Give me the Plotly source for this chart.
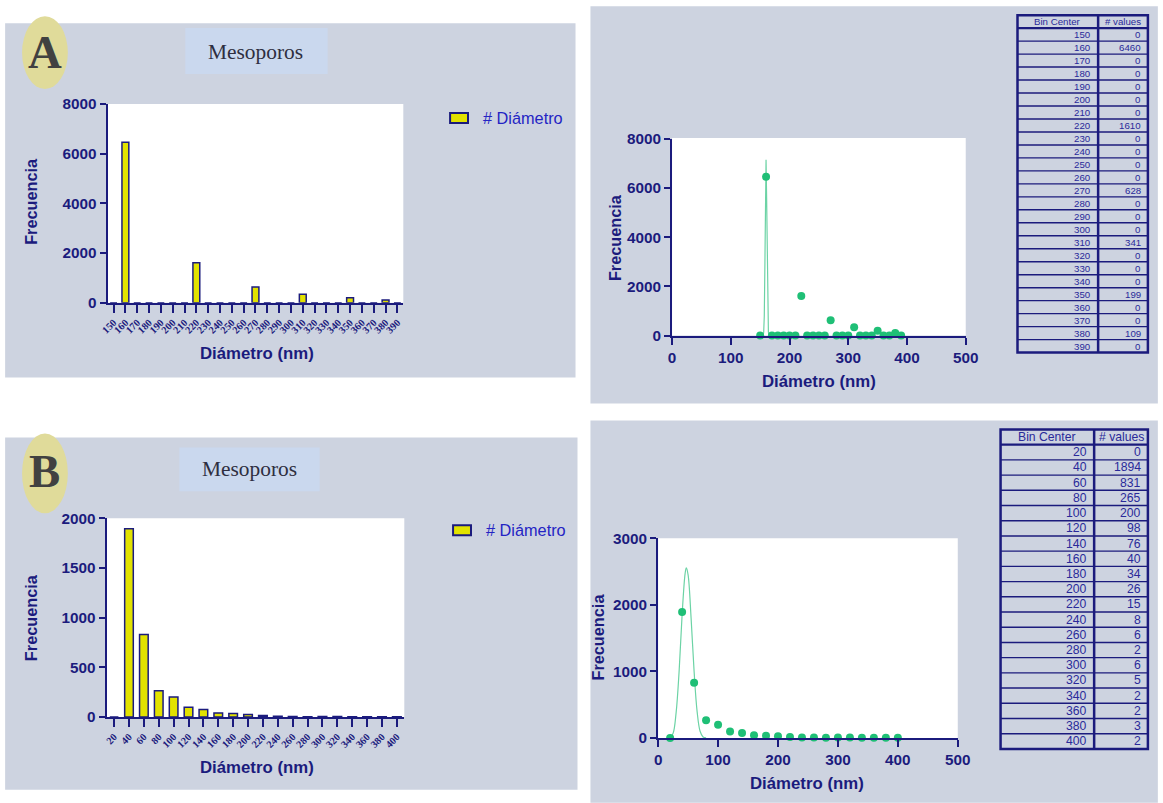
import plotly.graph_objects as go

# ---------------- data ----------------
bins_a = [150, 160, 170, 180, 190, 200, 210, 220, 230, 240, 250, 260, 270,
          280, 290, 300, 310, 320, 330, 340, 350, 360, 370, 380, 390]
counts_a = [0, 6460, 0, 0, 0, 0, 0, 1610, 0, 0, 0, 0, 628,
            0, 0, 0, 341, 0, 0, 0, 199, 0, 0, 109, 0]

bins_b = [20, 40, 60, 80, 100, 120, 140, 160, 180, 200,
          220, 240, 260, 280, 300, 320, 340, 360, 380, 400]
counts_b = [0, 1894, 831, 265, 200, 98, 76, 40, 34, 26,
            15, 8, 6, 2, 6, 5, 2, 2, 3, 2]

# fitted distribution curves
fit_a_x = [150, 155, 156, 157, 158, 159, 160, 161, 162, 163, 164, 165, 170]
fit_a_y = [0, 0, 150, 800, 2800, 5600, 7150, 5600, 2800, 800, 150, 0, 0]
fit_b_x = [20, 25, 30, 35, 40, 45, 47, 50, 55, 60, 65, 70, 75, 80]
fit_b_y = [5, 70, 380, 1000, 1850, 2470, 2555, 2450, 1800, 1000, 400, 100, 15, 0]

y_ticks_a = [0, 2000, 4000, 6000, 8000]
y_ticks_b = [0, 500, 1000, 1500, 2000]
y_ticks_b_fit = [0, 1000, 2000, 3000]
x_ticks_fit = [0, 100, 200, 300, 400, 500]
table_header = ["Bin Center", "# values"]

# ---------------- styling ----------------
W, H = 1163, 803
NAVY = "#1B1B7D"
TABLE_TXT = "#2A2A9A"
PANEL = "#CDD3E0"
BOX = "#CAD8EE"
BADGE = "#E0DB9A"
YELLOW = "#E2E200"
GREEN = "#1FBF76"
FIT = "#6CD3A5"
LEG_TXT = "#2424C4"
SANS = "Arial, Liberation Sans, sans-serif"
SERIF = "Liberation Serif, Times New Roman, serif"

# positions below are given in design-pixel units; these helpers map them
# onto the figure canvas
SX, SY, OFF = W / 1179, H / 819, 8
FS = 1.017  # font size factor matching the design grid


def px(x):
    return (x / SX - OFF) / W


def py(y):
    return 1 - (y / SY - OFF) / H


def fs(size):
    return round(size * FS, 1)


def rect(x0, y0, x1, y1, fill, line=None, lw=0, kind="rect", layer="below"):
    return dict(type=kind, xref="paper", yref="paper", layer=layer,
                x0=px(x0), x1=px(x1), y0=py(y1), y1=py(y0),
                fillcolor=fill, line=dict(color=line or fill, width=lw))


def hline(x0, x1, y, lw, color=NAVY):
    return dict(type="line", xref="paper", yref="paper", layer="above",
                x0=px(x0), x1=px(x1), y0=py(y), y1=py(y),
                line=dict(color=color, width=lw))


def vline(x, y0, y1, lw, color=NAVY):
    return dict(type="line", xref="paper", yref="paper", layer="above",
                x0=px(x), x1=px(x), y0=py(y1), y1=py(y0),
                line=dict(color=color, width=lw))


annotations = []


def text(x, y, s, size, color=NAVY, family=SANS, weight="bold", angle=0, xanchor="center"):
    annotations.append(dict(x=px(x), y=py(y), xref="paper", yref="paper", text=str(s),
                            showarrow=False, textangle=angle, xanchor=xanchor, yanchor="middle",
                            font=dict(family=family, size=fs(size), color=color, weight=weight)))


fig = go.Figure()

# histogram bars
fig.add_trace(go.Bar(x=[str(b) for b in bins_a], y=counts_a, xaxis="x", yaxis="y",
                     marker=dict(color=YELLOW, line=dict(color=NAVY, width=1.5)),
                     showlegend=False))
fig.add_trace(go.Bar(x=[str(b) for b in bins_b], y=counts_b, xaxis="x3", yaxis="y3",
                     marker=dict(color=YELLOW, line=dict(color=NAVY, width=1.5)),
                     showlegend=False))

# fitted curves and points
fig.add_trace(go.Scatter(x=fit_a_x, y=fit_a_y, xaxis="x2", yaxis="y2", mode="lines",
                         line=dict(color=FIT, width=1.2), showlegend=False))
fig.add_trace(go.Scatter(x=bins_a, y=counts_a, xaxis="x2", yaxis="y2", mode="markers",
                         marker=dict(color=GREEN, size=8), showlegend=False, cliponaxis=False))
fig.add_trace(go.Scatter(x=fit_b_x, y=fit_b_y, xaxis="x4", yaxis="y4", mode="lines",
                         line=dict(color=FIT, width=1.2, shape="spline"), showlegend=False))
fig.add_trace(go.Scatter(x=bins_b, y=counts_b, xaxis="x4", yaxis="y4", mode="markers",
                         marker=dict(color=GREEN, size=8), showlegend=False, cliponaxis=False))

shapes = [
    rect(5, 22, 578, 377, PANEL),
    rect(593, 5, 1163, 403, PANEL),
    rect(5, 437, 580, 790, PANEL),
    rect(593, 420, 1163, 803, PANEL),
    rect(22, 15, 68, 88, BADGE, kind="circle"),
    rect(22, 433, 68, 513, BADGE, kind="circle"),
    rect(186, 27, 329, 73, BOX),
    rect(180, 447, 321, 491, BOX),
    # white plotting areas
    rect(108, 103, 405, 302, "white"),
    rect(675, 137, 970, 335, "white"),
    rect(107, 518, 406, 717, "white"),
    rect(661, 538, 962, 738, "white"),
]
# legend swatches
for (x0, y0) in [(452, 112), (455, 525)]:
    shapes.append(rect(x0, y0, x0 + 18, y0 + 10, YELLOW, NAVY, 2, layer="above"))


# frequency tables: grid lines as shapes, values as text
def draw_table(x0, x1, xdiv, y0, y1, bins, counts, fsize, pad):
    x1 = min(x1, 1153)  # keep the right border on the canvas
    nrows = len(bins) + 1
    rh = (y1 - y0) / nrows
    for k in range(1, nrows):
        shapes.append(hline(x0, x1, y0 + k * rh, 2.2 if k == 1 else 1.4))
    shapes.append(rect(x0, y0, x1, y1, "rgba(0,0,0,0)", NAVY, 2.5, layer="above"))
    shapes.append(vline(xdiv, y0, y1, 2.5))
    text((x0 + xdiv) / 2, y0 + rh / 2, table_header[0], fsize, TABLE_TXT, weight="normal")
    text((xdiv + x1) / 2, y0 + rh / 2, table_header[1], fsize, TABLE_TXT, weight="normal")
    for i, (b, c) in enumerate(zip(bins, counts)):
        yc = y0 + (i + 1.5) * rh
        text(xdiv - pad, yc, b, fsize, TABLE_TXT, weight="normal", xanchor="right")
        text(x1 - pad, yc, c, fsize, TABLE_TXT, weight="normal", xanchor="right")


draw_table(1022, 1157, 1103, 14, 352, bins_a, counts_a, 9.5, 5)
draw_table(1005, 1160, 1099, 429, 749, bins_b, counts_b, 12, 5)

text(45, 51, "A", 46, color="#414141", family=SERIF)
text(45, 471, "B", 46, color="#414141", family=SERIF)
text(257, 51, "Mesoporos", 21, color="#2E2E40", family=SERIF, weight="normal")
text(250, 469, "Mesoporos", 21, color="#2E2E40", family=SERIF, weight="normal")
text(483, 117, "# Diámetro", 16, color=LEG_TXT, weight="normal", xanchor="left")
text(486, 530, "# Diámetro", 16, color=LEG_TXT, weight="normal", xanchor="left")

text(258, 353, "Diámetro (nm)", 16.5)
text(31, 201, "Frecuencia", 16, angle=-90)
text(823, 381, "Diámetro (nm)", 16.5)
text(617, 237, "Frecuencia", 16, angle=-90)
text(258, 768, "Diámetro (nm)", 16.5)
text(31, 618, "Frecuencia", 16, angle=-90)
text(811, 784, "Diámetro (nm)", 16.5)
text(601, 637, "Frecuencia", 16, angle=-90)

axis_common = dict(showline=True, linecolor=NAVY, linewidth=2, ticks="outside",
                   tickcolor=NAVY, tickwidth=2, showgrid=False, zeroline=False,
                   fixedrange=True)
num_font = dict(family=SANS, size=fs(15), color=NAVY, weight="bold")
cat_font = dict(family=SERIF, size=fs(10), color=NAVY, weight="bold")

fig.update_layout(
    width=W, height=H, margin=dict(l=0, r=0, t=0, b=0),
    paper_bgcolor="white", plot_bgcolor="rgba(0,0,0,0)",
    bargap=0.42, showlegend=False,
    shapes=shapes, annotations=annotations,
    xaxis=dict(axis_common, domain=[px(108), px(405)], anchor="y", type="category",
               range=[-0.5, 24.5], tickmode="linear", dtick=1, tickangle=-45,
               ticklen=8, tickfont=cat_font),
    yaxis=dict(axis_common, domain=[py(302), py(103)], anchor="x", range=[0, 8000],
               tickvals=y_ticks_a, ticklen=6, tickfont=num_font),
    xaxis2=dict(axis_common, domain=[px(675), px(970)], anchor="y2", range=[0, 500],
                tickvals=x_ticks_fit, ticklen=7, tickfont=num_font),
    yaxis2=dict(axis_common, domain=[py(335), py(138)], anchor="x2", range=[0, 8000],
                tickvals=y_ticks_a, ticklen=6, tickfont=num_font),
    xaxis3=dict(axis_common, domain=[px(107), px(406)], anchor="y3", type="category",
                range=[-0.5, 19.5], tickmode="linear", dtick=1, tickangle=-45,
                ticklen=8, tickfont=cat_font),
    yaxis3=dict(axis_common, domain=[py(717), py(518)], anchor="x3", range=[0, 2000],
                tickvals=y_ticks_b, ticklen=6, tickfont=num_font),
    xaxis4=dict(axis_common, domain=[px(661), px(962)], anchor="y4", range=[0, 500],
                tickvals=x_ticks_fit, ticklen=7, tickfont=num_font),
    yaxis4=dict(axis_common, domain=[py(738), py(538)], anchor="x4", range=[0, 3000],
                tickvals=y_ticks_b_fit, ticklen=6, tickfont=num_font),
)

fig.write_html("out.html", post_script="document.body.style.margin='0';")
